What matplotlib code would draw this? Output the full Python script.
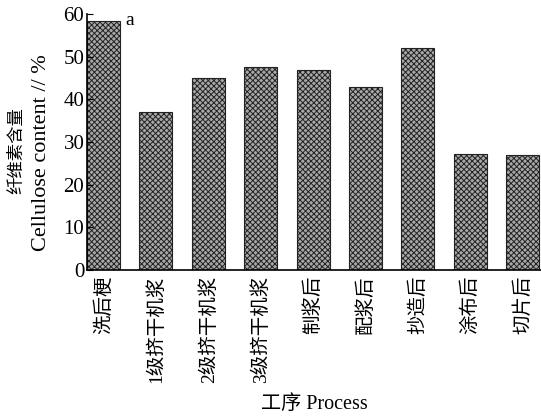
import matplotlib
matplotlib.use('Agg')
import matplotlib.pyplot as plt

plt.rcParams['font.family'] = ['Liberation Serif', 'Noto Sans CJK SC']
plt.rcParams['hatch.color'] = '#404040'
plt.rcParams['hatch.linewidth'] = 0.7

processes = ['洗后梗', '1级挤干机浆', '2级挤干机浆', '3级挤干机浆', '制浆后',
             '配浆后', '抄造后', '涂布后', '切片后']
cellulose = [58.5, 37.0, 45.0, 47.5, 47.0, 43.0, 52.0, 27.2, 27.0]
yticks = [0, 10, 20, 30, 40, 50, 60]

fig = plt.figure(figsize=(5.41, 4.17), dpi=100)
ax = fig.add_axes([0.161, 0.3525, 0.839, 0.6135])

x = range(len(processes))
ax.bar(x, cellulose, width=0.63, facecolor='#a8a8a8', edgecolor='#222222',
       linewidth=0.8, hatch='xxxxxx')

ax.set_xlim(-0.315, 8.35)
ax.set_ylim(0, 60)
ax.set_yticks(yticks)
ax.tick_params(axis='y', direction='in', length=4, labelsize=15, pad=2)
ax.tick_params(axis='x', length=0, pad=4)
ax.set_xticks(list(x))
ax.set_xticklabels(processes, rotation=90, fontsize=14, va='top')

for s in ['top', 'right']:
    ax.spines[s].set_visible(False)
ax.spines['left'].set_linewidth(1.2)
ax.spines['bottom'].set_linewidth(1.2)

ax.text(0.42, 58.5, 'a', fontsize=14, va='center', ha='left')

# two-line y label, the Chinese line a bit smaller
fig.text(0.032, 0.638, '纤维素含量', rotation=90, fontsize=12.5,
         ha='center', va='center')
fig.text(0.076, 0.635, 'Cellulose content // %', rotation=90, fontsize=16,
         ha='center', va='center')
ax.set_xlabel('工序 Process', fontsize=14.5, labelpad=9)

fig.savefig('out.png', dpi=100)
